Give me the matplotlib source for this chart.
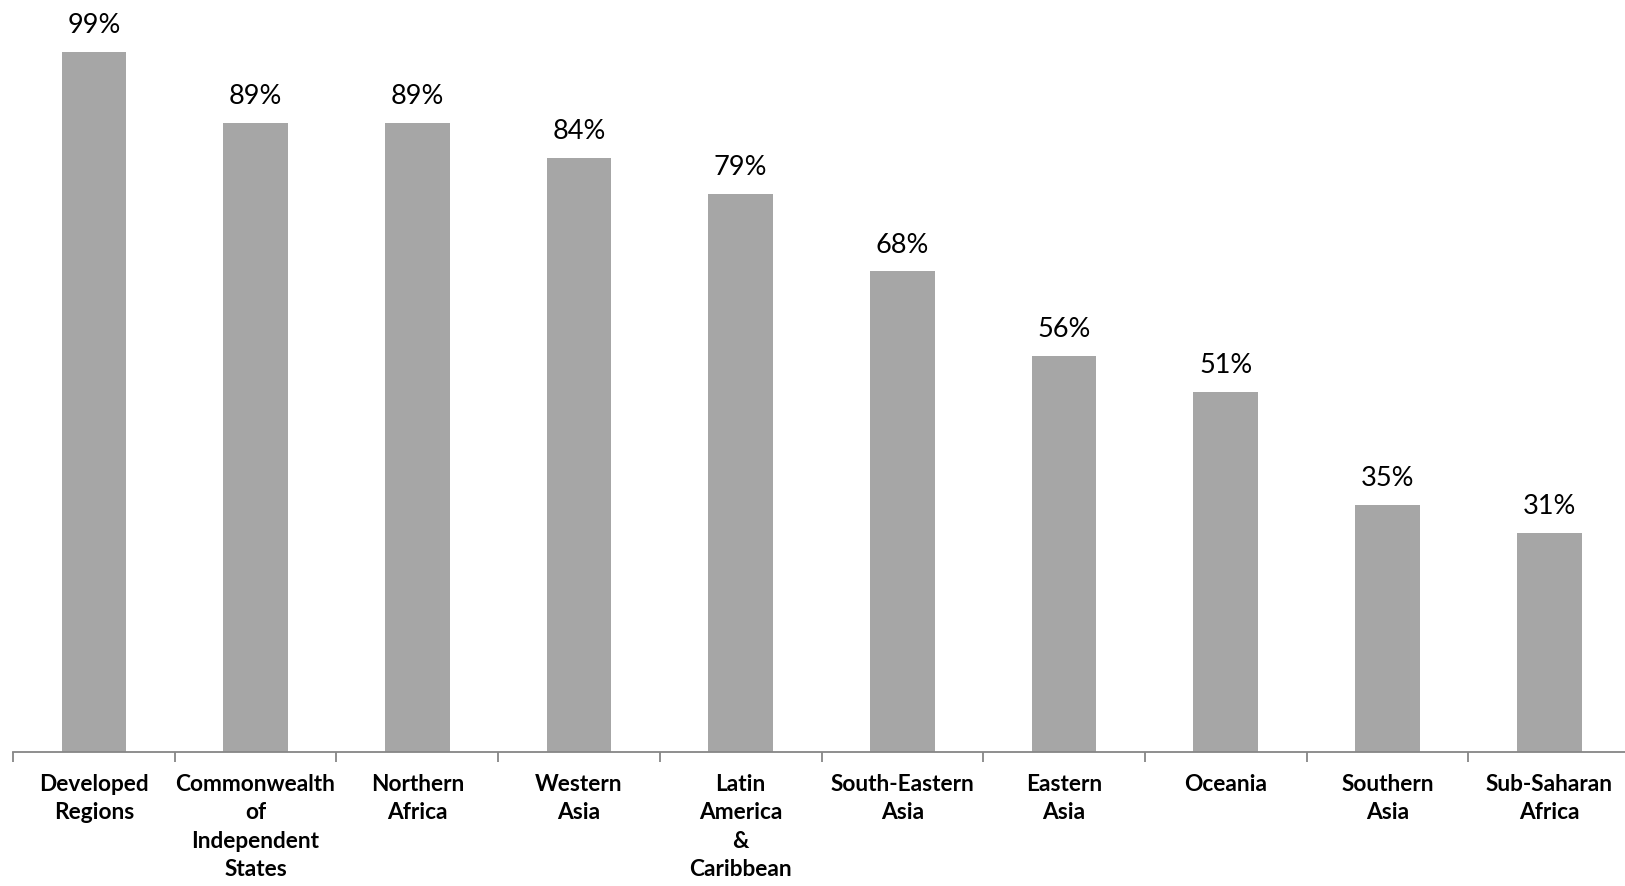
import matplotlib
matplotlib.use("Agg")
import matplotlib.pyplot as plt
import numpy as np

regions = [
    "Developed\nRegions",
    "Commonwealth\nof\nIndependent\nStates",
    "Northern\nAfrica",
    "Western\nAsia",
    "Latin\nAmerica\n&\nCaribbean",
    "South-Eastern\nAsia",
    "Eastern\nAsia",
    "Oceania",
    "Southern\nAsia",
    "Sub-Saharan\nAfrica",
]
coverage = [99, 89, 89, 84, 79, 68, 56, 51, 35, 31]

plt.rcParams["font.family"] = ["Lato", "DejaVu Sans"]

fig = plt.figure(figsize=(16.25, 8.86), dpi=100)
# the last category runs a few pixels past the right edge
ax = fig.add_axes([0.008, 0.1512, 0.9951, 0.8488])

x = np.arange(len(regions))
bars = ax.bar(x, coverage, width=0.4, color="#a6a6a6", edgecolor="none")

for rect, v in zip(bars, coverage):
    ax.annotate(f"{v}%", (rect.get_x() + rect.get_width() / 2, v),
                xytext=(0, 10), textcoords="offset points",
                ha="center", va="bottom", fontsize=19.5, color="black")

ax.set_xlim(-0.5, len(regions) - 0.5)
ax.set_ylim(0, 106.4)

for side in ("top", "right", "left"):
    ax.spines[side].set_visible(False)
ax.spines["bottom"].set_color("#868686")
ax.spines["bottom"].set_linewidth(1.3)

ax.set_yticks([])
# category boundaries get the tick marks, labels sit between them
ax.set_xticks(np.arange(len(regions)) - 0.5, minor=False)
ax.set_xticklabels([])
ax.set_xticks(x, minor=True)
ax.set_xticklabels(regions, minor=True, fontsize=16.3, fontweight="bold",
                   linespacing=1.42, va="top")
ax.tick_params(axis="x", which="major", length=7, width=1.3, color="#868686",
               direction="out")
ax.tick_params(axis="x", which="minor", length=0, pad=16)

fig.savefig("out.png", dpi=100, facecolor="white")
